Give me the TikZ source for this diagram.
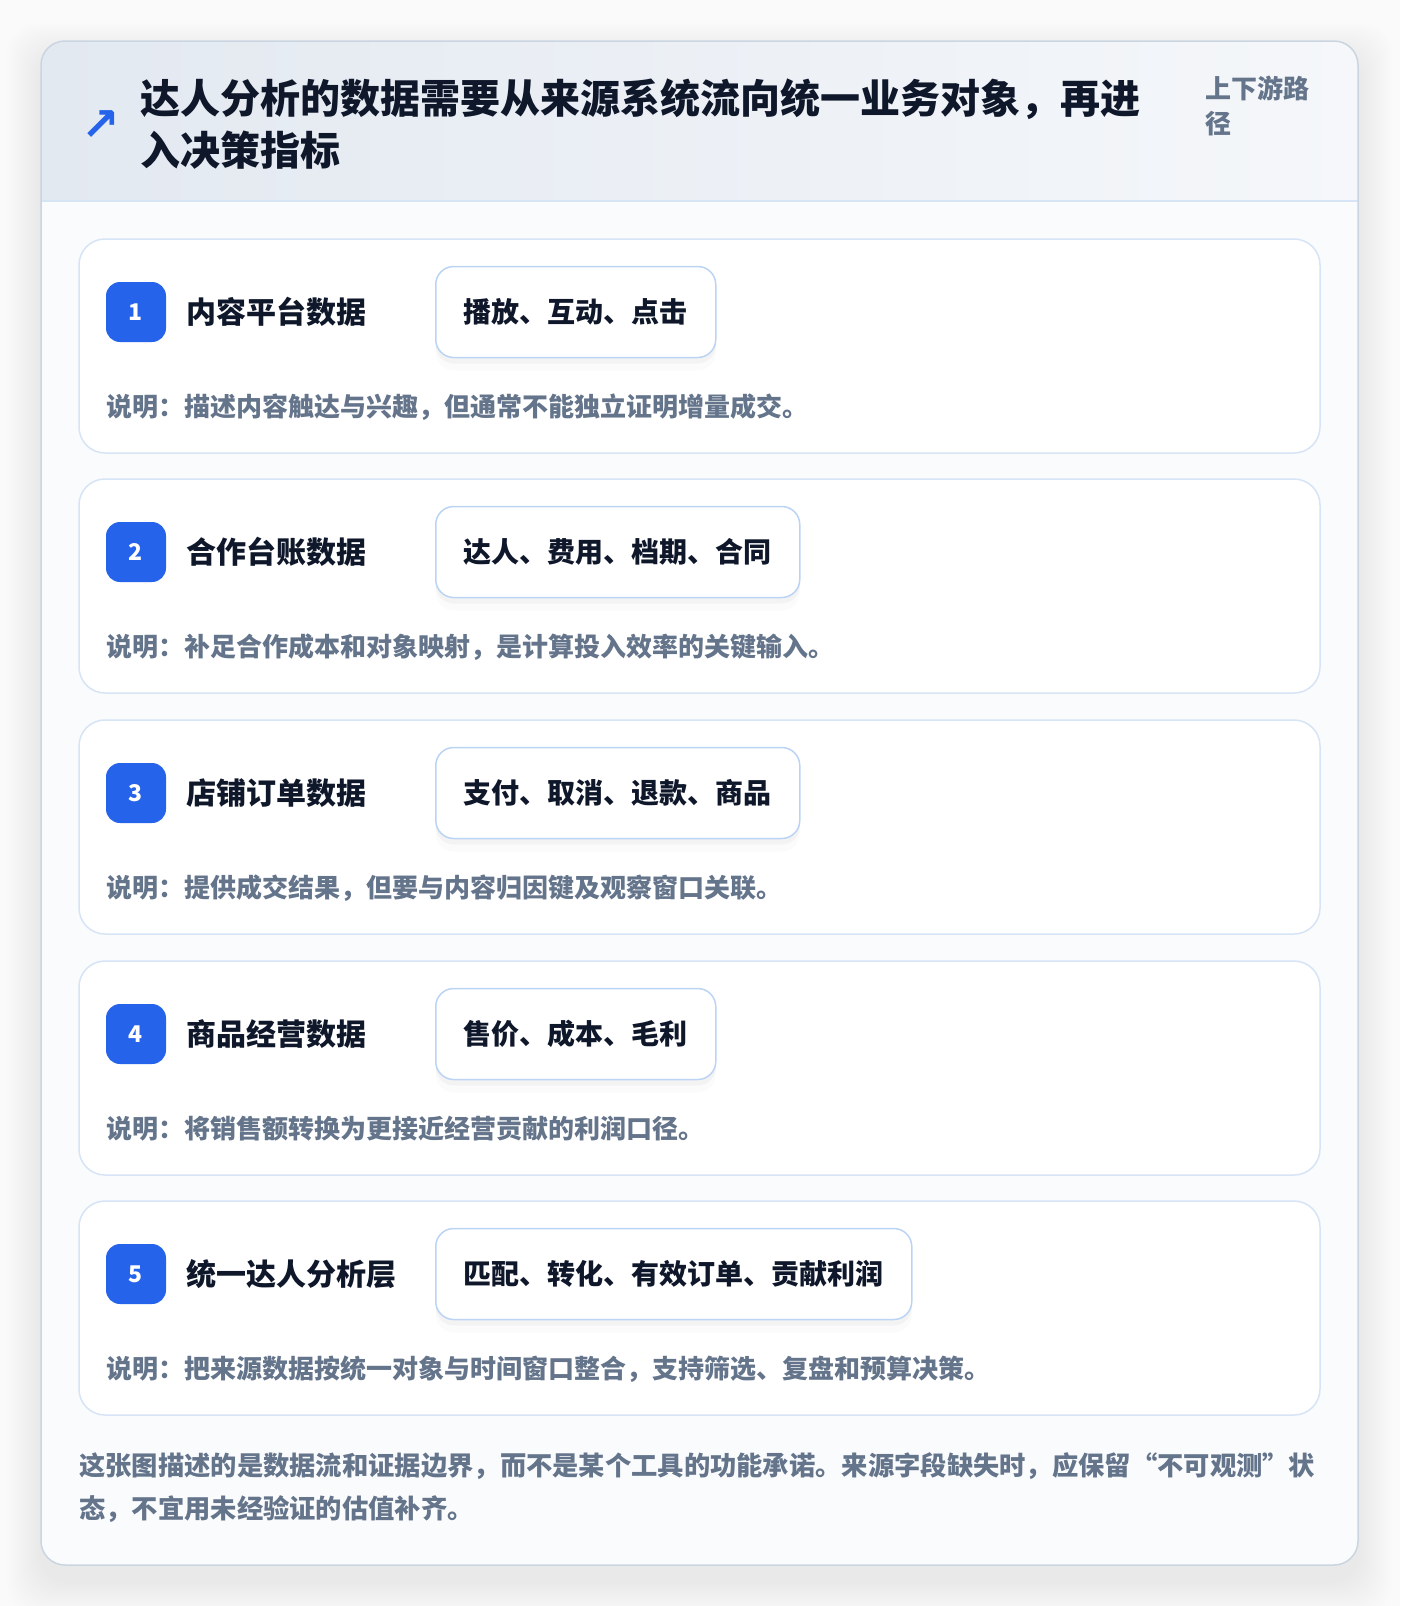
\documentclass[tikz,border=0pt]{standalone}
\usepackage{fontspec}
\setmainfont{Noto Sans CJK SC}
\newfontfamily\symfont{DejaVu Sans}
\usetikzlibrary{positioning}

\definecolor{pagebg}{HTML}{FAFAFB}
\definecolor{cardline}{HTML}{CBD5E1}
\definecolor{headleft}{HTML}{E3E9F1}
\definecolor{headright}{HTML}{F5F7FA}
\definecolor{bodybg}{HTML}{FAFBFD}
\definecolor{rowline}{HTML}{D6E4F6}
\definecolor{chipline}{HTML}{BCD4F3}
\definecolor{badgeblue}{HTML}{2563EB}
\definecolor{inkdark}{HTML}{0F172A}
\definecolor{inkgray}{HTML}{64748B}

\begin{document}
\begin{tikzpicture}[x=1pt,y=-1pt,
    row box/.style={draw=rowline,line width=1.5pt,fill=white,rounded corners=26pt},
    badge node/.style={fill=badgeblue,rounded corners=14pt,minimum size=60pt,inner sep=0pt,
      text=white,font=\fontsize{23}{23}\selectfont\bfseries},
    name node/.style={anchor=west,inner sep=0pt,text=inkdark,font=\fontsize{30}{30}\selectfont\bfseries},
    chip node/.style={draw=chipline,line width=1.5pt,fill=white,rounded corners=18pt,
      minimum height=91pt,inner xsep=28pt,inner ysep=0pt,anchor=west,text=inkdark,
      font=\fontsize{28}{28}\selectfont\bfseries,
      preaction={fill=black,opacity=0.03,transform canvas={yshift=-6pt}},
      preaction={fill=black,opacity=0.015,transform canvas={yshift=-13pt}}},
    note node/.style={anchor=west,inner sep=0pt,text=inkgray,font=\fontsize{26}{26}\selectfont\bfseries}]

  % page and card
  \useasboundingbox (0,0) rectangle (1400,1606);
  \fill[pagebg] (0,0) rectangle (1400,1606);
  \foreach \s in {2,4,...,34}
    \fill[black,opacity=0.0045,rounded corners=30pt] ({41-\s},{57-\s}) rectangle ({1358+\s},{1581+\s});
  \begin{scope}
    \clip[rounded corners=24pt] (41,41) rectangle (1358,1565);
    \fill[bodybg] (41,41) rectangle (1358,1565);
    \shade[left color=headleft,right color=headright] (41,41) rectangle (1358,201);
    \draw[rowline,line width=1.5pt] (41,201) -- (1358,201);
  \end{scope}
  \draw[cardline,line width=1.5pt,rounded corners=24pt] (41,41) rectangle (1358,1565);

  % header
  \node[inner sep=0pt,text=badgeblue,font=\symfont\bfseries\fontsize{46}{46}\selectfont] (icon) at (101,126) {↗};
  \node[anchor=west,align=left,inner sep=0pt,text=inkdark,font=\fontsize{40}{52}\selectfont\bfseries] (title) at (140,124)
    {达人分析的数据需要从来源系统流向统一业务对象，再进\\入决策指标};
  \node[anchor=west,align=left,inner sep=0pt,text=inkgray,font=\fontsize{26}{35}\selectfont\bfseries] (tag) at (1205,106)
    {上下游路\\径};

  % row 1
  \draw[row box] (79,239) rectangle (1320,453);
  \node[badge node] (b1) at (136,312) {1};
  \node[name node,right=20pt of b1] (t1) {内容平台数据};
  \node[chip node] (c1) at (435,312) {播放、互动、点击};
  \node[note node] (n1) at (106,407) {说明：描述内容触达与兴趣，但通常不能独立证明增量成交。};

  % row 2
  \draw[row box] (79,479) rectangle (1320,693);
  \node[badge node] (b2) at (136,552) {2};
  \node[name node,right=20pt of b2] (t2) {合作台账数据};
  \node[chip node] (c2) at (435,552) {达人、费用、档期、合同};
  \node[note node] (n2) at (106,647) {说明：补足合作成本和对象映射，是计算投入效率的关键输入。};

  % row 3
  \draw[row box] (79,720) rectangle (1320,934);
  \node[badge node] (b3) at (136,793) {3};
  \node[name node,right=20pt of b3] (t3) {店铺订单数据};
  \node[chip node] (c3) at (435,793) {支付、取消、退款、商品};
  \node[note node] (n3) at (106,888) {说明：提供成交结果，但要与内容归因键及观察窗口关联。};

  % row 4
  \draw[row box] (79,961) rectangle (1320,1175);
  \node[badge node] (b4) at (136,1034) {4};
  \node[name node,right=20pt of b4] (t4) {商品经营数据};
  \node[chip node] (c4) at (435,1034) {售价、成本、毛利};
  \node[note node] (n4) at (106,1129) {说明：将销售额转换为更接近经营贡献的利润口径。};

  % row 5
  \draw[row box] (79,1201) rectangle (1320,1415);
  \node[badge node] (b5) at (136,1274) {5};
  \node[name node,right=20pt of b5] (t5) {统一达人分析层};
  \node[chip node] (c5) at (435,1274) {匹配、转化、有效订单、贡献利润};
  \node[note node] (n5) at (106,1369) {说明：把来源数据按统一对象与时间窗口整合，支持筛选、复盘和预算决策。};

  % footer
  \node[anchor=west,align=left,inner sep=0pt,text=inkgray,font=\fontsize{26.3}{43}\selectfont\bfseries] (foot) at (79,1488)
    {这张图描述的是数据流和证据边界，而不是某个工具的功能承诺。来源字段缺失时，应保留“不可观测”状\\态，不宜用未经验证的估值补齐。};
\end{tikzpicture}
\end{document}
